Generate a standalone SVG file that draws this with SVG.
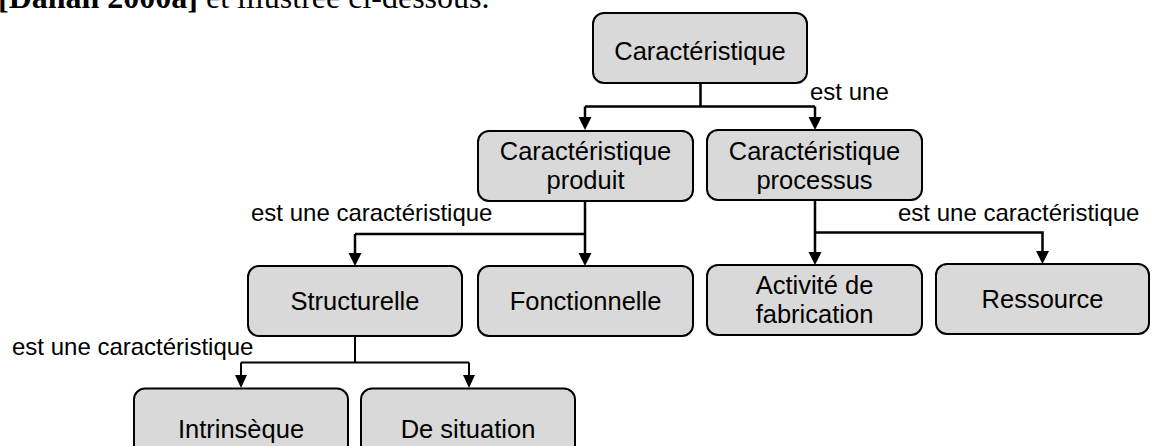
<svg xmlns="http://www.w3.org/2000/svg" width="1152" height="446" viewBox="0 0 1152 446">
<style>
.box{fill:#d9d9d9;stroke:#000;stroke-width:2}
.nt{font-family:"Liberation Sans",Arial,sans-serif;font-size:25.5px;fill:#000;text-anchor:middle}
.lb{font-family:"Liberation Sans",Arial,sans-serif;font-size:24px;fill:#000}
.ln{fill:none;stroke:#000;stroke-width:2.5}
.ln2{fill:none;stroke:#000;stroke-width:2}
.hd{font-family:"Liberation Serif","Times New Roman",serif;font-size:32px;fill:#000}
</style>
<defs>
<marker id="arr" markerWidth="6" markerHeight="6" viewBox="0 0 12 12" refX="12" refY="6" orient="auto" markerUnits="userSpaceOnUse" style="overflow:visible">
<path d="M0,0 L12,6 L0,12 Z" fill="#000"/>
</marker>
</defs>
<text class="hd" x="-2" y="8"><tspan font-weight="bold">[Dahan 2000a]</tspan> et illustrée ci-dessous.</text>
<g id="connectors">
<path class="ln" d="M700.5,83 V106.5 M585,106.5 H815"/>
<path class="ln" d="M585,106.5 V118"/><path d="M578.5,117 L591.5,117 L585,130 Z"/>
<path class="ln" d="M815,106.5 V118"/><path d="M808.5,117 L821.5,117 L815,130 Z"/>
<path class="ln" d="M585,201 V254 M355,234 H585 M355,234 V254"/>
<path d="M578.5,253 L591.5,253 L585,266 Z"/><path d="M348.5,253 L361.5,253 L355,266 Z"/>
<path class="ln" d="M815,200 V253 M815,232.5 H1042.5 V252"/>
<path d="M808.5,252 L821.5,252 L815,265 Z"/><path d="M1036,251 L1049,251 L1042.5,264 Z"/>
<path class="ln2" d="M355,336 V362.5 M241,362.5 H469 M241,362.5 V376 M469,362.5 V376"/>
<path d="M235,375 L247,375 L241,388 Z"/><path d="M463,375 L475,375 L469,388 Z"/>
<text class="lb" x="810" y="100">est une</text>
<text class="lb" x="251" y="221">est une caractéristique</text>
<text class="lb" x="898" y="221">est une caractéristique</text>
<text class="lb" x="12" y="355">est une caractéristique</text>
</g>
<g id="n-caracteristique"><rect class="box" x="593" y="13" width="214" height="70" rx="11"/><text class="nt" x="700" y="60">Caractéristique</text></g>
<g id="n-produit"><rect class="box" x="478" y="131" width="215" height="70" rx="11"/><text class="nt" x="585.5" y="160">Caractéristique</text><text class="nt" x="585.5" y="189">produit</text></g>
<g id="n-processus"><rect class="box" x="707" y="130" width="215" height="70" rx="11"/><text class="nt" x="814.5" y="159.5">Caractéristique</text><text class="nt" x="814.5" y="189">processus</text></g>
<g id="n-structurelle"><rect class="box" x="248" y="266" width="214" height="70" rx="11"/><text class="nt" x="355" y="310">Structurelle</text></g>
<g id="n-fonctionnelle"><rect class="box" x="478" y="266" width="215" height="70" rx="11"/><text class="nt" x="585.5" y="310">Fonctionnelle</text></g>
<g id="n-activite"><rect class="box" x="707" y="265" width="215" height="70" rx="11"/><text class="nt" x="814.5" y="294">Activité de</text><text class="nt" x="814.5" y="323">fabrication</text></g>
<g id="n-ressource"><rect class="box" x="936" y="264" width="213" height="70" rx="11"/><text class="nt" x="1042.5" y="308">Ressource</text></g>
<g id="n-intrinseque"><rect class="box" x="134" y="388.5" width="214" height="70" rx="11"/><text class="nt" x="241" y="438">Intrinsèque</text></g>
<g id="n-situation"><rect class="box" x="361" y="388.5" width="214" height="70" rx="11"/><text class="nt" x="468" y="438">De situation</text></g>
</svg>
